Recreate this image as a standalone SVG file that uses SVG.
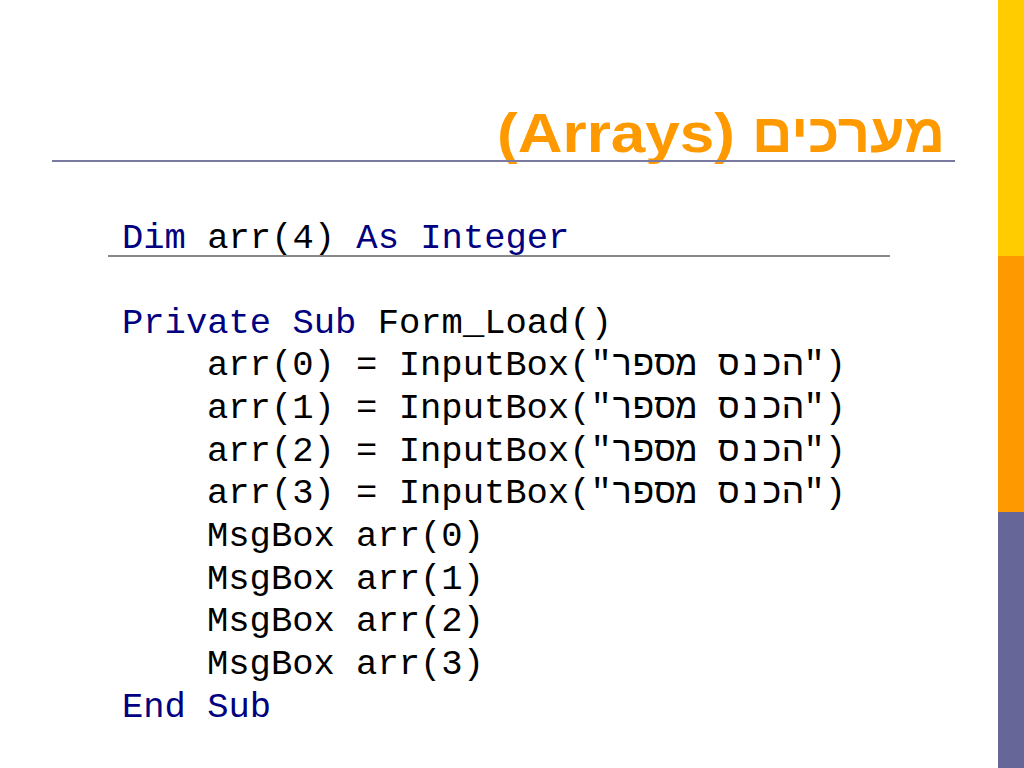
<svg xmlns="http://www.w3.org/2000/svg" width="1024" height="768" viewBox="0 0 1024 768">
<style>
.c{font-family:"Liberation Mono","DejaVu Sans Mono",monospace;font-size:35.5px;fill:#000}
.k{fill:#000080}
.t{font-family:"Liberation Sans","DejaVu Sans",sans-serif;font-weight:bold;font-size:55px;fill:#FF9900}
</style>
<rect width="1024" height="768" fill="#fff"/>
<rect x="998" y="0" width="26" height="256" fill="#FFCC00"/>
<rect x="998" y="256" width="26" height="256" fill="#FF9900"/>
<rect x="998" y="512" width="26" height="256" fill="#666699"/>
<text class="t" x="497" y="152" textLength="238" lengthAdjust="spacingAndGlyphs">(Arrays)</text>
<text class="t" x="752" y="152" textLength="193" lengthAdjust="spacingAndGlyphs">מערכים</text>
<line x1="52" y1="161" x2="955" y2="161" stroke="#7a7aa0" stroke-width="2"/>
<line x1="108" y1="256" x2="890" y2="256" stroke="#888" stroke-width="2"/>
<text class="c" x="122" y="248"><tspan class="k">Dim</tspan> arr(4) <tspan class="k">As</tspan> <tspan class="k">Integer</tspan></text>
<text class="c" x="122" y="333"><tspan class="k">Private</tspan> <tspan class="k">Sub</tspan> Form_Load()</text>
<text class="c" x="207" y="375" xml:space="preserve">arr(0) = InputBox("הכנס מספר")</text>
<text class="c" x="207" y="418" xml:space="preserve">arr(1) = InputBox("הכנס מספר")</text>
<text class="c" x="207" y="461" xml:space="preserve">arr(2) = InputBox("הכנס מספר")</text>
<text class="c" x="207" y="503" xml:space="preserve">arr(3) = InputBox("הכנס מספר")</text>
<text class="c" x="207" y="546">MsgBox arr(0)</text>
<text class="c" x="207" y="589">MsgBox arr(1)</text>
<text class="c" x="207" y="631">MsgBox arr(2)</text>
<text class="c" x="207" y="674">MsgBox arr(3)</text>
<text class="c" x="122" y="717"><tspan class="k">End</tspan> <tspan class="k">Sub</tspan></text>
</svg>
